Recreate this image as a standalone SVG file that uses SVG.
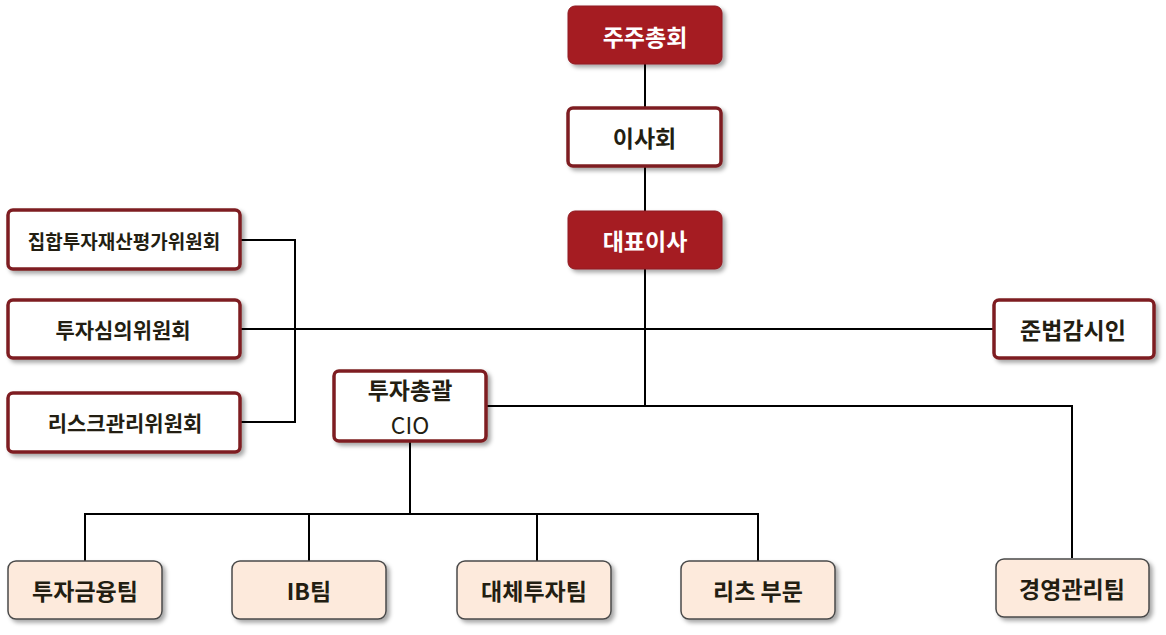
<svg xmlns="http://www.w3.org/2000/svg" width="1166" height="635" viewBox="0 0 1166 635">
<defs>
<filter id="sh" x="-10%" y="-20%" width="130%" height="150%">
<feDropShadow dx="3" dy="3" stdDeviation="2" flood-color="#000" flood-opacity="0.35"/>
</filter>
<style>
.red rect{fill:#A51B22;stroke:#8E1A1F;stroke-width:1;filter:url(#sh)}
.wht rect{fill:#ffffff;stroke:#7E1F20;stroke-width:3.5;filter:url(#sh)}
.team rect{fill:#FDEADC;stroke:#4A4A4A;stroke-width:1.5;filter:url(#sh)}
text{font-family:"Noto Sans CJK KR","Noto Sans",sans-serif;font-weight:bold;text-anchor:middle;dominant-baseline:central;fill:#231E12}
.red text{fill:#ffffff}
text.lat{font-weight:normal}
.conn{fill:none;stroke:#000;stroke-width:2}
</style>
</defs>
<g id="connectors" class="conn">
<line x1="645" y1="64" x2="645" y2="108"/>
<line x1="645" y1="166" x2="645" y2="211"/>
<line x1="645" y1="269" x2="645" y2="407"/>
<polyline points="241,240 295,240 295,422 241,422"/>
<line x1="241" y1="329" x2="993" y2="329"/>
<polyline points="487,406 1072,406 1072,558"/>
<line x1="410" y1="442" x2="410" y2="514"/>
<polyline points="85,561 85,514 758,514 758,561"/>
<line x1="309" y1="514" x2="309" y2="561"/>
<line x1="537" y1="514" x2="537" y2="561"/>
</g>
<g id="n-shareholders" class="red">
<rect x="568" y="6" width="154" height="58" rx="7"/>
<text x="645" y="36" font-size="23">주주총회</text>
</g>
<g id="n-board" class="wht">
<rect x="568" y="108" width="153" height="58" rx="5"/>
<text x="644.5" y="137" font-size="23">이사회</text>
</g>
<g id="n-ceo" class="red">
<rect x="568" y="211" width="154" height="58" rx="7"/>
<text x="645" y="240" font-size="23">대표이사</text>
</g>
<g id="n-valuation" class="wht">
<rect x="8" y="210" width="232" height="59" rx="5"/>
<text x="124" y="240" font-size="19">집합투자재산평가위원회</text>
</g>
<g id="n-invest-committee" class="wht">
<rect x="8" y="300" width="232" height="58" rx="5"/>
<text x="123" y="329" font-size="21">투자심의위원회</text>
</g>
<g id="n-risk" class="wht">
<rect x="8" y="393" width="232" height="59" rx="5"/>
<text x="125" y="422" font-size="21">리스크관리위원회</text>
</g>
<g id="n-compliance" class="wht">
<rect x="994" y="300" width="160" height="58" rx="5"/>
<text x="1073" y="329" font-size="23">준법감시인</text>
</g>
<g id="n-cio" class="wht">
<rect x="334" y="371" width="152" height="70" rx="5"/>
<text x="410" y="389" font-size="23">투자총괄</text>
<text class="lat" x="410" y="424" font-size="23">CIO</text>
</g>
<g id="n-finance" class="team">
<rect x="8" y="561" width="154" height="58" rx="8"/>
<text x="85" y="590" font-size="23">투자금융팀</text>
</g>
<g id="n-ib" class="team">
<rect x="232" y="561" width="154" height="58" rx="8"/>
<text x="309" y="590" font-size="23">IB팀</text>
</g>
<g id="n-alt" class="team">
<rect x="457" y="561" width="154" height="58" rx="8"/>
<text x="534" y="590" font-size="23">대체투자팀</text>
</g>
<g id="n-reits" class="team">
<rect x="681" y="561" width="154" height="58" rx="8"/>
<text x="758" y="590" font-size="23">리츠 부문</text>
</g>
<g id="n-mgmt" class="team">
<rect x="996" y="559" width="153" height="58" rx="8"/>
<text x="1072" y="588" font-size="23">경영관리팀</text>
</g>
</svg>
